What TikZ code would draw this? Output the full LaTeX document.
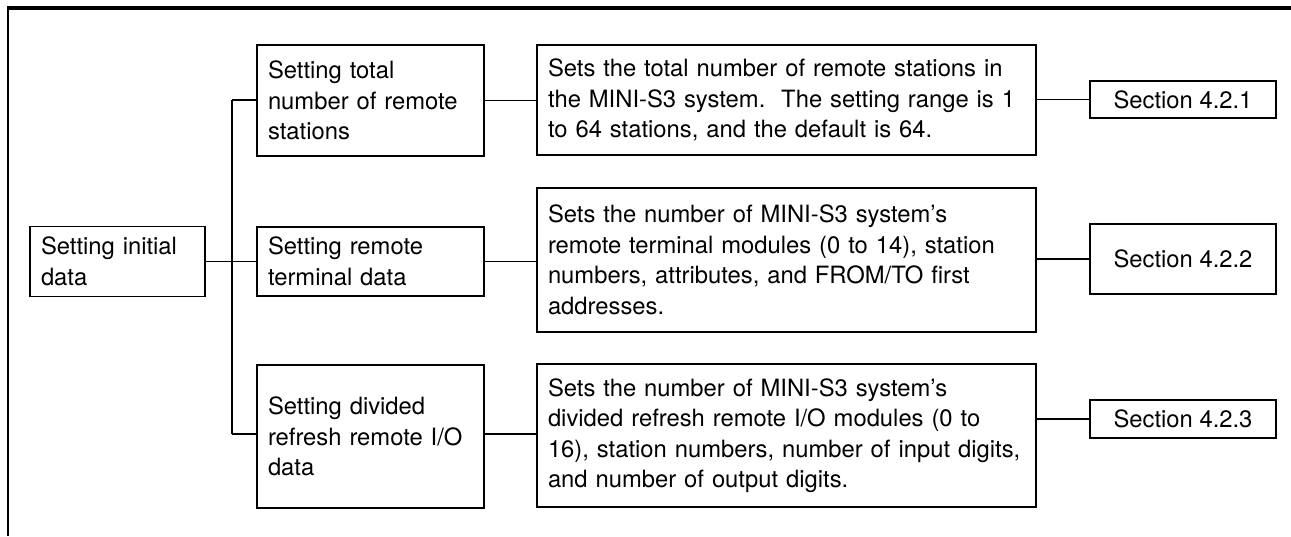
\documentclass[tikz,border=0pt]{standalone}
\usepackage{fontspec}
\setmainfont{TeX Gyre Heros}
\begin{document}
\begin{tikzpicture}[x=1pt,y=-1pt,
  box/.style={draw, line width=1.9pt, inner sep=0pt, inner xsep=11pt, align=left,
    font=\fontsize{23.8}{30.5}\selectfont},
  secbox/.style={draw, line width=1.9pt, inner sep=0pt, align=center,
    font=\fontsize{23.8}{30.5}\selectfont},
  conn/.style={line width=1.9pt}]
\useasboundingbox (0,0) rectangle (1291,536);
% frame
\draw[line width=3.2pt] (7,8) -- (1291,8);
\draw[line width=2.2pt] (8,7) -- (8,536);
% left column
\node[box, text width=153pt, minimum height=70pt] (init) at (117.5,261.5) {Setting initial\\data};
\node[box, text width=205pt, minimum height=111pt] (b1) at (370.5,100.5) {Setting total\\number of remote\\stations};
\node[box, text width=205pt, minimum height=69pt] (b2) at (370.5,261.5) {Setting remote\\terminal data};
\node[box, text width=205pt, minimum height=143pt] (b3) at (370.5,436.5) {Setting divided\\refresh remote I/O\\data};
% descriptions
\node[box, text width=477pt, minimum height=110pt] (d1) at (786.5,100) {Sets the total number of remote stations in\\the MINI-S3 system.\ \ The setting range is 1\\to 64 stations, and the default is 64.};
\node[box, text width=477pt, minimum height=144pt] (d2) at (786.5,260) {Sets the number of MINI-S3 system's\\remote terminal modules (0 to 14), station\\numbers, attributes, and FROM/TO first\\addresses.};
\node[box, text width=477pt, minimum height=143pt] (d3) at (786.5,435.5) {Sets the number of MINI-S3 system's\\divided refresh remote I/O modules (0 to\\16), station numbers, number of input digits,\\and number of output digits.};
% sections
\node[secbox, minimum width=186pt, minimum height=37pt] (s1) at (1183,99.5) {Section 4.2.1};
\node[secbox, minimum width=186pt, minimum height=70pt] (s2) at (1183,259) {Section 4.2.2};
\node[secbox, minimum width=186pt, minimum height=38pt] (s3) at (1183,419) {Section 4.2.3};
% tree
\coordinate (t1) at (232,100);
\coordinate (t3) at (232,434);
\draw[conn] (t1) -- (t3);
\draw[conn] (t1) -- (t1 -| b1.west);
\draw[conn] (t3) -- (t3 -| b3.west);
\draw[conn] (init.east) -- (b2.west);
% to descriptions
\draw[conn] (b1.east) -- (b1.east -| d1.west);
\draw[conn] (b2.east) -- (b2.east -| d2.west);
\draw[conn] (t3 -| b3.east) -- (t3 -| d3.west);
% to sections
\draw[conn] (s1.west -| d1.east) -- (s1.west);
\draw[conn] (s2.west -| d2.east) -- (s2.west);
\draw[conn] (s3.west -| d3.east) -- (s3.west);
\end{tikzpicture}
\end{document}
